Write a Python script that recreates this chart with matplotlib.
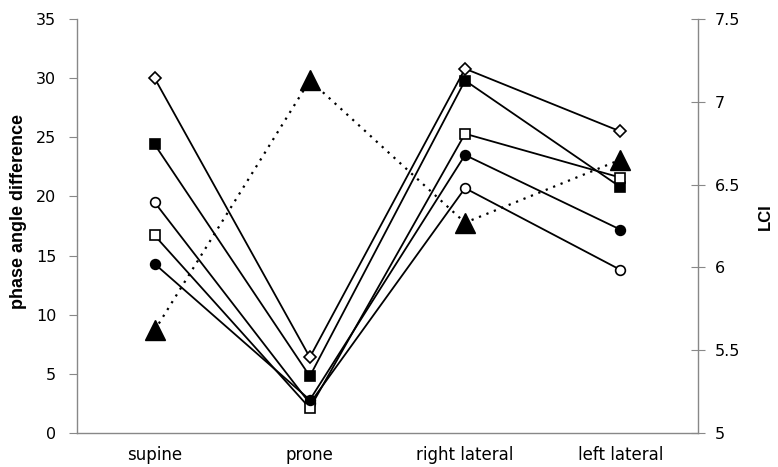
import matplotlib
matplotlib.use("Agg")
import matplotlib.pyplot as plt

plt.rcParams['font.family'] = ['DejaVu Sans']

positions = ["supine", "prone", "right lateral", "left lateral"]

# phase angle difference per subject (left axis)
pad_diamond = [30.0, 6.4, 30.8, 25.5]
pad_filled_square = [24.4, 4.8, 29.8, 20.8]
pad_open_circle = [19.5, 2.5, 20.7, 13.8]
pad_open_square = [16.7, 2.1, 25.3, 21.6]
pad_filled_circle = [14.3, 2.8, 23.5, 17.2]

# lung clearance index (right axis)
lci = [5.62, 7.13, 6.27, 6.65]

left_ticks = [0, 5, 10, 15, 20, 25, 30, 35]
right_ticks = [5, 5.5, 6, 6.5, 7, 7.5]
right_tick_labels = ["5", "5.5", "6", "6.5", "7", "7.5"]

axis_grey = "#888888"
bold_family = ["Liberation Sans", "DejaVu Sans"]

fig = plt.figure(figsize=(7.78, 4.67), dpi=100)
ax = fig.add_axes([0.099, 0.0728, 0.798, 0.8865])
x = list(range(len(positions)))

line_kw = dict(color="black", lw=1.3, markeredgewidth=1.2, zorder=3)
ax.plot(x, pad_diamond, marker="D", markersize=6, mfc="white", mec="black", **line_kw)
ax.plot(x, pad_filled_square, marker="s", markersize=7, mfc="black", mec="black", **line_kw)
ax.plot(x, pad_open_circle, marker="o", markersize=7, mfc="white", mec="black", **line_kw)
ax.plot(x, pad_open_square, marker="s", markersize=7, mfc="white", mec="black", **line_kw)
ax.plot(x, pad_filled_circle, marker="o", markersize=7, mfc="black", mec="black", **line_kw)

ax.set_xlim(-0.5, len(positions) - 0.5)
ax.set_ylim(0, 35)
ax.set_yticks(left_ticks)
ax.set_xticks(x)
ax.set_xticklabels(positions, fontsize=12)
ax.tick_params(axis="x", length=0, pad=9)
ax.tick_params(axis="y", direction="out", length=6, color=axis_grey, labelsize=11.5, pad=9)
ax.set_ylabel("phase angle difference", family=bold_family, fontsize=13, fontweight="bold")
ax.yaxis.set_label_coords(-0.08, 0.534)

for side in ("top", "right"):
    ax.spines[side].set_visible(False)
for side in ("left", "bottom"):
    ax.spines[side].set_color(axis_grey)
    ax.spines[side].set_linewidth(1.0)

ax2 = ax.twinx()
ax2.plot(x, lci, color="black", ls=(0, (1, 2.6)), lw=1.6, marker="^",
         markersize=15, mfc="black", mec="black", zorder=4)
ax2.set_ylim(5, 7.5)
ax2.set_yticks(right_ticks)
ax2.set_yticklabels(right_tick_labels)
ax2.tick_params(axis="y", direction="inout", length=10, color=axis_grey, labelsize=11.5, pad=7)
ax2.set_ylabel("LCI", family=bold_family, fontsize=12, fontweight="bold")
ax2.yaxis.set_label_coords(1.097, 0.522)
for side in ("top", "left", "bottom"):
    ax2.spines[side].set_visible(False)
ax2.spines["right"].set_color(axis_grey)
ax2.spines["right"].set_linewidth(1.0)

fig.savefig("out.png", dpi=100)
